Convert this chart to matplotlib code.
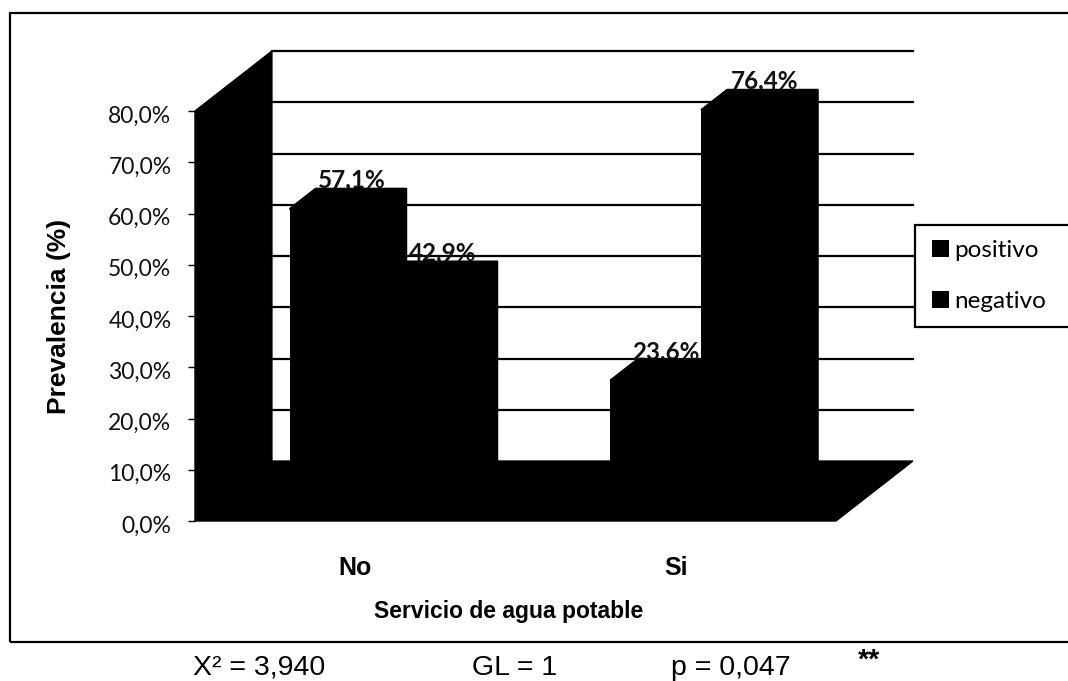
import matplotlib
matplotlib.use('Agg')
import matplotlib.pyplot as plt
from matplotlib.patches import Rectangle
from matplotlib.transforms import ScaledTranslation

categories = ['No', 'Si']
positivo = [57.1, 23.6]
negativo = [42.9, 76.4]
yticks = [0, 10, 20, 30, 40, 50, 60, 70, 80]
ytick_labels = ['0,0%', '10,0%', '20,0%', '30,0%', '40,0%', '50,0%', '60,0%', '70,0%', '80,0%']

# fake 3d: how far the back wall is shifted from the front, in data units
wall_dx = 0.24
wall_dy = 11.7
bar_dx = wall_dx / 3
bar_dy = wall_dy / 3
bar_w = 0.284

W, H = 1068, 681
fig = plt.figure(figsize=(W / 100, H / 100), dpi=100)
ax = fig.add_axes([195 / W, (H - 521) / H, 641 / W, 410 / H])
ax.set_xlim(-0.5, 1.5)
ax.set_ylim(0, 80)
for s in ax.spines.values():
    s.set_visible(False)

# outer frame, runs off the right side
fig.add_artist(Rectangle((10 / W, (H - 642) / H), 1.1, 629 / H, transform=fig.transFigure,
                         fill=False, edgecolor='black', linewidth=1.6))

# back wall gridlines
for y in yticks[1:]:
    ax.plot([-0.5 + wall_dx, 1.5 + wall_dx], [y + wall_dy, y + wall_dy], color='black',
            linewidth=1.6, clip_on=False, zorder=1)

# left wall and floor
ax.fill([-0.5, -0.5 + wall_dx, -0.5 + wall_dx, -0.5], [0, wall_dy, 80 + wall_dy, 80],
        color='black', clip_on=False, zorder=3)
ax.fill([-0.5, -0.5 + wall_dx, 1.5 + wall_dx, 1.5], [0, wall_dy, wall_dy, 0],
        color='black', clip_on=False, zorder=3)


def bars_3d(xs, values, label, shifts):
    lefts = [x + bar_dx for x in xs]
    cont = ax.bar(lefts, values, width=bar_w, bottom=bar_dy, align='edge', color='black',
                  label=label, clip_on=False, zorder=3)
    for x0, v, sh in zip(lefts, values, shifts):
        top = bar_dy + v
        x1 = x0 + bar_w
        ax.fill([x0, x0 + bar_dx, x1 + bar_dx, x1 + bar_dx, x1],
                [top, top + bar_dy, top + bar_dy, bar_dy * 2, bar_dy],
                color='black', clip_on=False, zorder=3)
        # label sits behind the bar so its lower edge gets cut off, as in the scan
        ax.text(x0 + bar_dx + bar_w / 2 + sh, top + bar_dy + 0.2, ('%.1f%%' % v).replace('.', ','),
                ha='center', va='baseline', fontsize=17.5, fontweight='bold', family='Lato',
                color='#111111', zorder=2, clip_on=False)
    return cont


xpos = list(range(len(categories)))
b1 = bars_3d([x - bar_w for x in xpos], positivo, 'positivo', [-0.03, -0.05])
b2 = bars_3d(xpos, negativo, 'negativo', [-0.03, -0.025])

ax.set_yticks(yticks)
ax.set_yticklabels(ytick_labels, family='Lato', fontsize=16.5, color='#111111')
ax.tick_params(axis='y', length=5, width=1, pad=12, color='black')
down = ScaledTranslation(0, -3 / 100, fig.dpi_scale_trans)
for t in ax.get_yticklabels():
    t.set_transform(t.get_transform() + down)
ax.set_xticks(xpos)
ax.set_xticklabels(categories, family='Liberation Sans', fontweight='bold', fontsize=18)
ax.tick_params(axis='x', length=0, pad=25)

ax.set_ylabel('Prevalencia (%)', family='Liberation Sans', fontweight='bold', fontsize=19)
ax.yaxis.set_label_coords(-0.194, 0.5)
ax.set_xlabel('Servicio de agua potable', family='Liberation Sans', fontweight='bold', fontsize=16.5)
ax.xaxis.set_label_coords(0.49, -0.193)

# legend box
fig.add_artist(Rectangle((915 / W, (H - 327) / H), 0.2, 102 / H, transform=fig.transFigure,
                         facecolor='white', edgecolor='black', linewidth=1.6, zorder=5))
leg = fig.legend(handles=[b1, b2], labels=['positivo', 'negativo'], frameon=False,
                 loc='center left', bbox_to_anchor=(932 / W, (H - 276) / H),
                 prop={'family': 'Lato', 'size': 17.5}, handlelength=0.7, handleheight=0.7,
                 handletextpad=0.2, labelspacing=1.25, borderpad=0, borderaxespad=0)
leg.set_zorder(6)

# statistics line under the frame
fig.text(193 / W, (H - 675) / H, 'X² = 3,940', family='Liberation Sans', fontsize=20.5)
fig.text(472 / W, (H - 675) / H, 'GL = 1', family='Liberation Sans', fontsize=20.5)
fig.text(671 / W, (H - 675) / H, 'p = 0,047', family='Liberation Sans', fontsize=20.5)
fig.text(858 / W, (H - 668) / H, '**', family='Liberation Sans', fontsize=20.5, fontweight='bold')

fig.savefig('out.png', dpi=100)
